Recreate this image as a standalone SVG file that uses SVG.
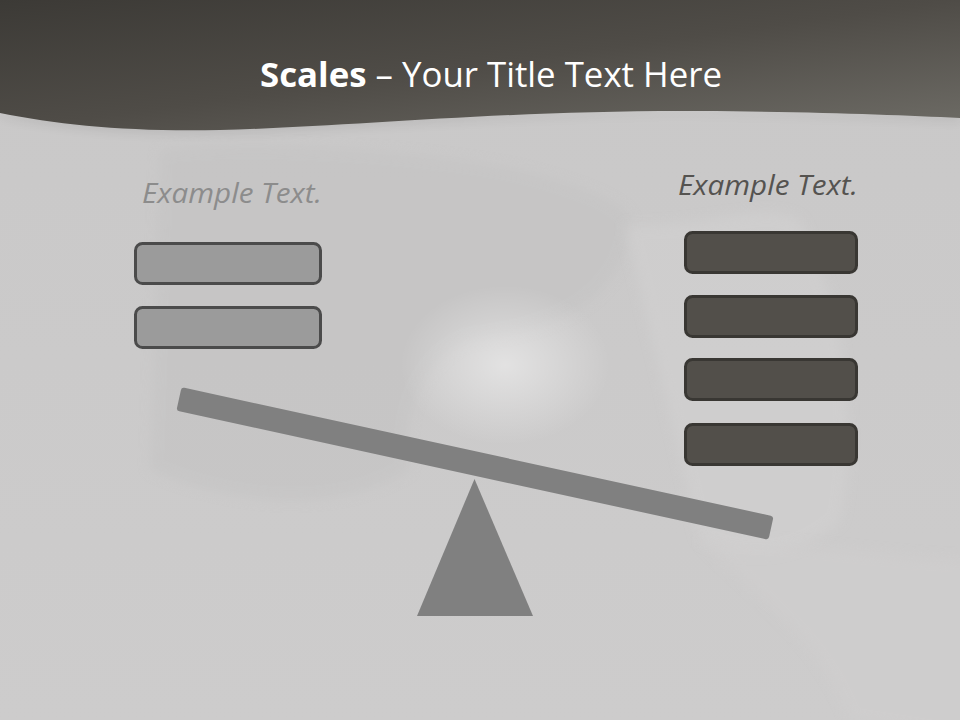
<svg xmlns="http://www.w3.org/2000/svg" width="960" height="720" viewBox="0 0 960 720">
<defs>
<linearGradient id="hdr" x1="0" y1="0" x2="1" y2="1">
<stop offset="0" stop-color="#3c3a36"/>
<stop offset="0.5" stop-color="#4f4c47"/>
<stop offset="1" stop-color="#6e6c66"/>
</linearGradient>
<linearGradient id="bg" x1="0" y1="0" x2="0" y2="1">
<stop offset="0" stop-color="#c9c8c8"/>
<stop offset="1" stop-color="#cdcccc"/>
</linearGradient>
<radialGradient id="glow" cx="0.5" cy="0.5" r="0.5">
<stop offset="0" stop-color="#ffffff" stop-opacity="0.45"/>
<stop offset="0.6" stop-color="#ffffff" stop-opacity="0.18"/>
<stop offset="1" stop-color="#ffffff" stop-opacity="0"/>
</radialGradient>
<filter id="blur" filterUnits="userSpaceOnUse" x="-100" y="-100" width="1160" height="920"><feGaussianBlur stdDeviation="6"/></filter>
</defs>
<style>
.lbox{fill:#9b9b9b;stroke:#4b4b4b;stroke-width:3}
.rbox{fill:#524f4a;stroke:#393733;stroke-width:3}
.lbl{font-family:"Open Sans","Noto Sans",sans-serif;font-style:italic;font-size:27px}
.part{fill:#808080}
</style>
<rect width="960" height="720" fill="url(#bg)"/>
<g id="background">
<path d="M160,150 C260,140 420,150 520,170 C600,190 640,210 630,230 C620,300 560,330 470,340 C420,360 400,420 410,470 C330,520 220,500 150,470 Z" fill="#c3c2c2" opacity="0.5" filter="url(#blur)"/>
<path d="M625,225 C700,230 760,200 800,220 C840,300 860,420 840,520 C800,560 740,560 700,540 Z" fill="#d3d2d2" opacity="0.55" filter="url(#blur)"/>
<path d="M700,540 C760,600 820,640 850,720 L980,740 L980,560 C900,560 800,540 700,540 Z" fill="#d0cfcf" opacity="0.5" filter="url(#blur)"/>
<ellipse cx="505" cy="365" rx="105" ry="80" fill="url(#glow)"/>
</g>
<g id="header">
<path d="M0,116 C60,128 130,135 220,133 C350,130 500,113 700,114 C820,115 900,118 960,121 L960,112 L0,112 Z" fill="#000" opacity="0.08" filter="url(#blur)"/>
<path d="M0,0 H960 V118 C900,115 820,112 700,111 C500,110 350,127 220,130 C130,132 60,125 0,113 Z" fill="url(#hdr)"/>
<text x="491" y="87" text-anchor="middle" font-family="'Open Sans','Noto Sans',sans-serif" font-size="34" fill="#ffffff" textLength="462" lengthAdjust="spacingAndGlyphs"><tspan font-weight="bold">Scales</tspan> – Your Title Text Here</text>
</g>
<g id="left-label"><text class="lbl" x="232" y="203" text-anchor="middle" fill="#8c8c8c" textLength="180" lengthAdjust="spacingAndGlyphs">Example Text.</text></g>
<g id="right-label"><text class="lbl" x="768" y="195" text-anchor="middle" fill="#555350" textLength="180" lengthAdjust="spacingAndGlyphs">Example Text.</text></g>
<g id="left-box-1"><rect class="lbox" x="135.5" y="243.5" width="185" height="40" rx="7"/></g>
<g id="left-box-2"><rect class="lbox" x="135.5" y="307.5" width="185" height="40" rx="7"/></g>
<g id="right-box-1"><rect class="rbox" x="685.5" y="232.5" width="171" height="40" rx="7"/></g>
<g id="right-box-2"><rect class="rbox" x="685.5" y="296.5" width="171" height="40" rx="7"/></g>
<g id="right-box-3"><rect class="rbox" x="685.5" y="359.5" width="171" height="40" rx="7"/></g>
<g id="right-box-4"><rect class="rbox" x="685.5" y="424.5" width="171" height="40" rx="7"/></g>
<g id="connectors"></g>
<g id="fulcrum"><polygon class="part" points="474.5,479 417,616 533,616"/></g>
<g id="beam"><rect class="part" x="-303" y="-12" width="606" height="24" rx="3" transform="translate(475,463.5) rotate(12.3)"/></g>
</svg>
